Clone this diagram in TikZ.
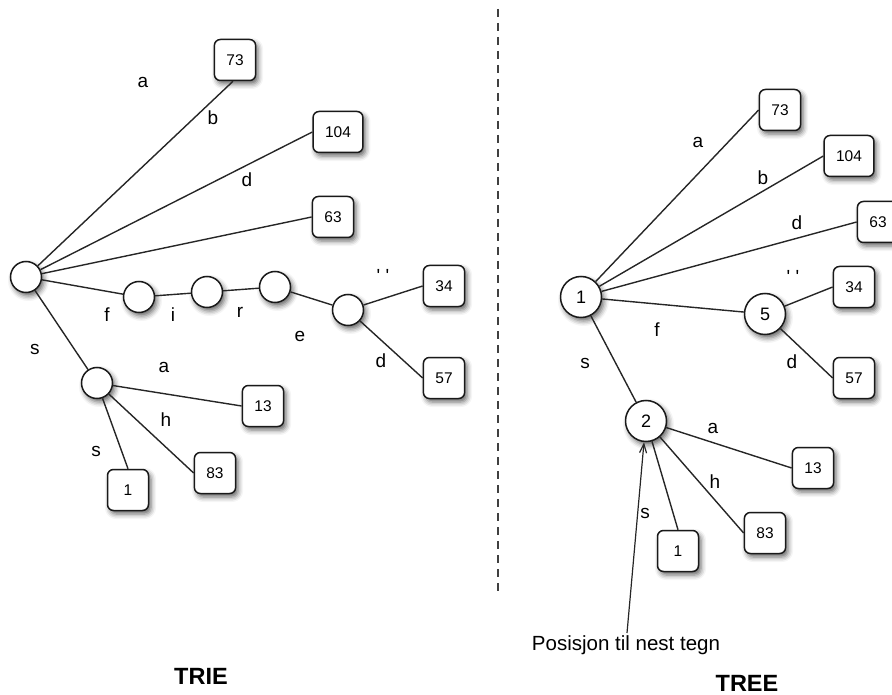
\documentclass[tikz,border=0pt]{standalone}
\usepackage{fontspec}
\newfontfamily\lab{Liberation Sans}
\usetikzlibrary{shadows.blur,arrows.meta}

\begin{document}
\begin{tikzpicture}[x=1pt,y=-1pt,
  edge/.style={draw=black!85,line width=1.4pt},
  softshadow/.style={blur shadow={shadow xshift=2.5pt,shadow yshift=-3.5pt,shadow blur radius=5pt,shadow opacity=60}},
  leaf/.style={draw=black!90,line width=1.5pt,fill=white,rounded corners=6pt,
    minimum width=41pt,minimum height=41pt,inner xsep=12pt,inner ysep=0pt,
    font=\lab\fontsize{15.5}{17}\selectfont,softshadow},
  knot/.style={circle,draw=black!90,line width=1.5pt,fill=white,minimum size=31pt,
    inner sep=0pt,softshadow},
  bigknot/.style={knot,minimum size=41pt,font=\lab\fontsize{18}{20}\selectfont},
  lbl/.style={inner sep=0pt,font=\lab\fontsize{19}{21}\selectfont},
  note/.style={inner sep=0pt,font=\lab\fontsize{20.5}{23}\selectfont},
  title/.style={inner sep=0pt,font=\lab\bfseries\fontsize{23.5}{26}\selectfont}]

\useasboundingbox (0,0) rectangle (892,695);

% ---------------- trie ----------------
\node[knot] (rootL) at (26,277) {};
\node[leaf] (t73) at (235,60) {73};
\node[leaf] (t104) at (338,132) {104};
\node[leaf] (t63) at (333,217) {63};
\node[knot] (tf) at (139,297) {};
\node[knot] (ti) at (207,292) {};
\node[knot] (tr) at (275,287) {};
\node[knot] (te) at (348,310) {};
\node[leaf] (t34) at (444,286) {34};
\node[leaf] (t57) at (444,378) {57};
\node[knot] (ts) at (97,383) {};
\node[leaf] (t13) at (263,406) {13};
\node[leaf] (t83) at (215,473) {83};
\node[leaf] (t1) at (128,490) {1};

\draw[edge] (rootL) -- ([xshift=-2pt]t73.south);
\draw[edge] (rootL) -- (t104.west);
\draw[edge] (rootL) -- (t63.west);
\draw[edge] (rootL) -- (tf);
\draw[edge] (tf) -- (ti);
\draw[edge] (ti) -- (tr);
\draw[edge] (tr) -- (te);
\draw[edge] (te) -- (t34.west);
\draw[edge] (te) -- (t57.west);
\draw[edge] (rootL) -- (ts);
\draw[edge] (ts) -- (t13.west);
\draw[edge] (ts) -- (t83.west);
\draw[edge] (ts) -- (t1.north);

\node[lbl] (la1) at (143,82) {a};
\node[lbl] (lb1) at (213,118) {b};
\node[lbl] (ld1) at (247,180) {d};
\node[lbl] (lf1) at (107,315) {f};
\node[lbl] (li1) at (173,315) {i};
\node[lbl] (lr1) at (240,312) {r};
\node[lbl] (le1) at (300,336) {e};
\node[lbl] (lsp1) at (383,276) {' '};
\node[lbl] (ld2) at (381,361) {d};
\node[lbl] (ls1) at (35,349) {s};
\node[lbl] (la2) at (164,367) {a};
\node[lbl] (lh1) at (166,420) {h};
\node[lbl] (ls2) at (96,451) {s};

\node[title] (trie) at (201,676) {TRIE};

% ---------------- divider ----------------
\coordinate (divtop) at (498,9);
\coordinate (divbot) at (498,592);
\draw[black!75,line width=2.2pt,dash pattern=on 8pt off 6pt] (divtop) -- (divbot);

% ---------------- tree ----------------
\node[bigknot] (rootR) at (581,297) {1};
\node[leaf] (r73) at (780,110) {73};
\node[leaf] (r104) at (849,156) {104};
\node[leaf] (r63) at (878,222) {63};
\node[bigknot] (r5) at (765,314) {5};
\node[leaf] (r34) at (854,287) {34};
\node[leaf] (r57) at (854,378) {57};
\node[bigknot] (r2) at (646,421) {2};
\node[leaf] (r13) at (813,468) {13};
\node[leaf] (r83) at (765,533) {83};
\node[leaf] (r1) at (678,551) {1};

\draw[edge] (rootR) -- (r73.west);
\draw[edge] (rootR) -- (r104.west);
\draw[edge] (rootR) -- (r63.west);
\draw[edge] (rootR) -- (r5);
\draw[edge] (r5) -- (r34.west);
\draw[edge] (r5) -- (r57.west);
\draw[edge] (rootR) -- (r2);
\draw[edge] (r2) -- (r13.west);
\draw[edge] (r2) -- (r83.west);
\draw[edge] (r2) -- (r1.north);

\node[lbl] (ra1) at (698,142) {a};
\node[lbl] (rb1) at (763,178) {b};
\node[lbl] (rd1) at (797,223) {d};
\node[lbl] (rsp1) at (793,277) {' '};
\node[lbl] (rf1) at (657,330) {f};
\node[lbl] (rd2) at (792,362) {d};
\node[lbl] (rs1) at (585,363) {s};
\node[lbl] (ra2) at (713,428) {a};
\node[lbl] (rh1) at (715,482) {h};
\node[lbl] (rs2) at (645,513) {s};

\node[note] (pos) at (626,645) {Posisjon til nest tegn};
\coordinate (arrowfoot) at (627,633);
\draw[black!85,line width=1.2pt,-{Straight Barb[length=9pt,width=7pt]}] (arrowfoot) -- ([xshift=-2pt]r2.south);

\node[title] (tree) at (747,683) {TREE};
\end{tikzpicture}
\end{document}
